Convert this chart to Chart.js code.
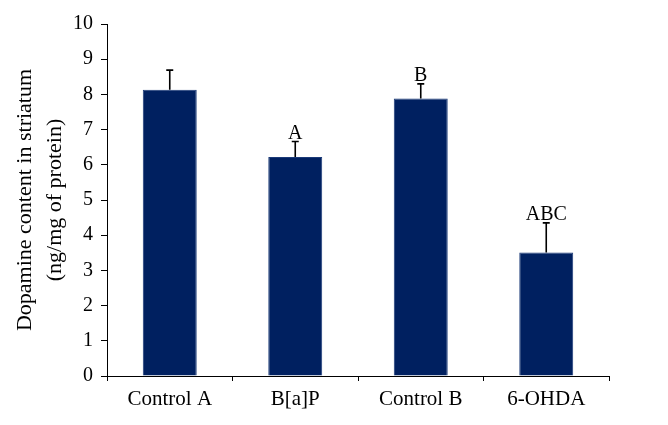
<!DOCTYPE html>
<html>
<head>
<meta charset="utf-8">
<script src="https://cdn.jsdelivr.net/npm/chart.js@4"></script>
<style>
  html, body { margin: 0; padding: 0; background: #fff; }
  #wrap { width: 668px; height: 425px; }
</style>
</head>
<body>
<div id="wrap"><canvas id="dopChart" width="668" height="425"></canvas></div>
<script>
const groups = ['Control A', 'B[a]P', 'Control B', '6-OHDA'];
const dopamine = [8.13, 6.22, 7.88, 3.51];
const sem = [0.56, 0.44, 0.42, 0.84];
const marks = ['', 'A', 'B', 'ABC'];
const yTicks = [0, 1, 2, 3, 4, 5, 6, 7, 8, 9, 10];

const serif = '"Liberation Serif", "DejaVu Serif", serif';

// upper error bars plus the significance letters
const errorBars = {
  id: 'errorBars',
  afterDatasetsDraw(chart) {
    const ctx = chart.ctx;
    const meta = chart.getDatasetMeta(0);
    const y = chart.scales.y;
    ctx.save();
    ctx.strokeStyle = '#000';
    ctx.lineWidth = 1.6;
    meta.data.forEach((bar, i) => {
      const top = y.getPixelForValue(dopamine[i]);
      const hi = y.getPixelForValue(dopamine[i] + sem[i]);
      ctx.beginPath();
      ctx.moveTo(bar.x, top);
      ctx.lineTo(bar.x, hi);
      ctx.moveTo(bar.x - 3.5, hi);
      ctx.lineTo(bar.x + 3.5, hi);
      ctx.stroke();
      if (marks[i]) {
        ctx.fillStyle = '#000';
        ctx.font = '20px ' + serif;
        ctx.textAlign = 'center';
        ctx.textBaseline = 'alphabetic';
        ctx.fillText(marks[i], bar.x, hi - 3);
      }
    });
    ctx.restore();
  }
};

new Chart(document.getElementById('dopChart').getContext('2d'), {
  type: 'bar',
  data: {
    labels: groups,
    datasets: [{
      data: dopamine,
      backgroundColor: '#002060',
      borderColor: '#1b3a78',
      borderWidth: 1,
      barPercentage: 0.86,
      categoryPercentage: 0.5
    }]
  },
  options: {
    responsive: false,
    animation: false,
    layout: { padding: { top: 24, right: 59, left: 0, bottom: 0 } },
    plugins: { legend: { display: false }, tooltip: { enabled: false } },
    scales: {
      x: {
        afterFit(scale) { scale.height = 49; },
        border: { color: '#000', width: 1 },
        grid: { drawOnChartArea: false, drawTicks: true, tickLength: 5, color: '#000', offset: true },
        ticks: { color: '#000', padding: 6, font: { family: serif, size: 21 } }
      },
      y: {
        min: 0,
        max: 10,
        afterFit(scale) { scale.width = 107; },
        afterBuildTicks(scale) { scale.ticks = yTicks.map(v => ({ value: v })); },
        border: { color: '#000', width: 1 },
        grid: { drawOnChartArea: false, drawTicks: true, tickLength: 6, color: '#000' },
        ticks: { color: '#000', padding: 8, font: { family: serif, size: 20 } },
        title: {
          display: true,
          text: ['Dopamine content in striatum', '(ng/mg of protein)'],
          color: '#000',
          padding: { top: 10, bottom: 0 },
          font: { family: serif, size: 22, lineHeight: 1.36 }
        }
      }
    }
  },
  plugins: [errorBars]
});
</script>
</body>
</html>
